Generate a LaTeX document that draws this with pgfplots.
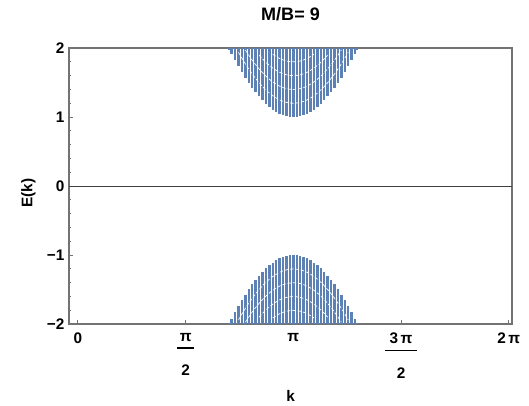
\documentclass[border=0pt]{standalone}
\usepackage{fontspec}
\setmainfont{Liberation Sans}
\usepackage{pgfplots}
\pgfplotsset{compat=1.18}
\definecolor{mblue}{rgb}{0.368,0.507,0.710}
\definecolor{framegray}{gray}{0.45}
\begin{document}
\begin{tikzpicture}
\begin{axis}[
  width=332pt, height=207pt, scale only axis,
  xmin=-0.13, xmax=6.33, ymin=-2, ymax=2,
  axis line style={framegray, line width=1.1pt},
  tick style={framegray, line width=0.8pt},
  major tick length=3pt, minor tick length=1.6pt,
  xtick pos=bottom, ytick pos=left,
  xtick={0,1.5708,3.1416,4.7124,6.2832},
  xticklabels={0,{\shortstack{π\\[1.25pt]\rule{12.5pt}{1.2pt}\\[9.25pt]2}},π,{\shortstack{3\,π\\[1.25pt]\rule{24pt}{1.2pt}\\[9.25pt]2}},2\,π},
  ytick={-2,-1,0,1,2},
  yticklabels={−2,−1,0,1,2},
  minor y tick num=4,
  /pgf/number format/assume math mode=true,
  ticklabel style={font=\fontsize{11.5}{13}\selectfont\bfseries},
  xticklabel style={anchor=north, yshift=-3.25pt},
  title={M/B= 9},
  title style={font=\fontsize{13.5}{15}\selectfont\bfseries, at={(0.5,1)}, anchor=base, yshift=15pt},
  xlabel={k},
  xlabel style={font=\fontsize{11.5}{13}\selectfont\bfseries, at={(axis description cs:0.5,0)}, anchor=base, yshift=-58pt},
  ylabel={E(k)},
  ylabel style={font=\fontsize{11.5}{13}\selectfont\bfseries, at={(axis description cs:-0.092,0.475)}, anchor=center},
  clip=true,
]
% zero line
\addplot[black!75, line width=0.9pt, forget plot] coordinates {(-0.2,0) (6.5,0)};
% upper band: columns from E(k) up to 2
\addplot[draw=none, forget plot,
  error bars/.cd, y dir=minus, y explicit, error mark=none,
  error bar style={solid, draw=mblue, line width=1.8pt}]
coordinates {
(2.2116,2) -= (0,0.023)
(2.2416,2) -= (0,0.080)
(2.2916,2) -= (0,0.174)
(2.3416,2) -= (0,0.263)
(2.3916,2) -= (0,0.348)
(2.4416,2) -= (0,0.429)
(2.4916,2) -= (0,0.504)
(2.5416,2) -= (0,0.576)
(2.5916,2) -= (0,0.642)
(2.6416,2) -= (0,0.702)
(2.6916,2) -= (0,0.758)
(2.7416,2) -= (0,0.808)
(2.7916,2) -= (0,0.853)
(2.8416,2) -= (0,0.891)
(2.8916,2) -= (0,0.924)
(2.9416,2) -= (0,0.952)
(2.9916,2) -= (0,0.973)
(3.0416,2) -= (0,0.988)
(3.0916,2) -= (0,0.997)
(3.1416,2) -= (0,1.000)
(3.1916,2) -= (0,0.997)
(3.2416,2) -= (0,0.988)
(3.2916,2) -= (0,0.973)
(3.3416,2) -= (0,0.952)
(3.3916,2) -= (0,0.924)
(3.4416,2) -= (0,0.891)
(3.4916,2) -= (0,0.853)
(3.5416,2) -= (0,0.808)
(3.5916,2) -= (0,0.758)
(3.6416,2) -= (0,0.702)
(3.6916,2) -= (0,0.642)
(3.7416,2) -= (0,0.576)
(3.7916,2) -= (0,0.504)
(3.8416,2) -= (0,0.429)
(3.8916,2) -= (0,0.348)
(3.9416,2) -= (0,0.263)
(3.9916,2) -= (0,0.174)
(4.0416,2) -= (0,0.080)
(4.0716,2) -= (0,0.023)
};
% lower band: columns from -2 up to E(k)
\addplot[draw=none, forget plot,
  error bars/.cd, y dir=plus, y explicit, error mark=none,
  error bar style={solid, draw=mblue, line width=1.8pt}]
coordinates {
(2.2116,-2) += (0,0.023)
(2.2416,-2) += (0,0.080)
(2.2916,-2) += (0,0.174)
(2.3416,-2) += (0,0.263)
(2.3916,-2) += (0,0.348)
(2.4416,-2) += (0,0.429)
(2.4916,-2) += (0,0.504)
(2.5416,-2) += (0,0.576)
(2.5916,-2) += (0,0.642)
(2.6416,-2) += (0,0.702)
(2.6916,-2) += (0,0.758)
(2.7416,-2) += (0,0.808)
(2.7916,-2) += (0,0.853)
(2.8416,-2) += (0,0.891)
(2.8916,-2) += (0,0.924)
(2.9416,-2) += (0,0.952)
(2.9916,-2) += (0,0.973)
(3.0416,-2) += (0,0.988)
(3.0916,-2) += (0,0.997)
(3.1416,-2) += (0,1.000)
(3.1916,-2) += (0,0.997)
(3.2416,-2) += (0,0.988)
(3.2916,-2) += (0,0.973)
(3.3416,-2) += (0,0.952)
(3.3916,-2) += (0,0.924)
(3.4416,-2) += (0,0.891)
(3.4916,-2) += (0,0.853)
(3.5416,-2) += (0,0.808)
(3.5916,-2) += (0,0.758)
(3.6416,-2) += (0,0.702)
(3.6916,-2) += (0,0.642)
(3.7416,-2) += (0,0.576)
(3.7916,-2) += (0,0.504)
(3.8416,-2) += (0,0.429)
(3.8916,-2) += (0,0.348)
(3.9416,-2) += (0,0.263)
(3.9916,-2) += (0,0.174)
(4.0416,-2) += (0,0.080)
(4.0716,-2) += (0,0.023)
};
% inner bands (white gaps between the nested dotted curves)
\addplot[white, line width=0.5pt, dash pattern=on 2.5pt off 1.5pt, smooth, forget plot] coordinates {
(2.3416,1.937) (2.4416,1.771) (2.5416,1.624) (2.6416,1.498) (2.7416,1.392) (2.8416,1.309) (2.9416,1.248) (3.0416,1.212) (3.1416,1.200) (3.2416,1.212) (3.3416,1.248) (3.4416,1.309) (3.5416,1.392) (3.6416,1.498) (3.7416,1.624) (3.8416,1.771) (3.9416,1.937)};
\addplot[white, line width=0.5pt, dash pattern=on 2.5pt off 1.5pt, smooth, forget plot] coordinates {
(2.4416,1.971) (2.5416,1.824) (2.6416,1.698) (2.7416,1.592) (2.8416,1.509) (2.9416,1.448) (3.0416,1.412) (3.1416,1.400) (3.2416,1.412) (3.3416,1.448) (3.4416,1.509) (3.5416,1.592) (3.6416,1.698) (3.7416,1.824) (3.8416,1.971)};
\addplot[white, line width=0.5pt, dash pattern=on 2.5pt off 1.5pt, smooth, forget plot] coordinates {
(2.6416,1.898) (2.7416,1.792) (2.8416,1.709) (2.9416,1.648) (3.0416,1.612) (3.1416,1.600) (3.2416,1.612) (3.3416,1.648) (3.4416,1.709) (3.5416,1.792) (3.6416,1.898)};
\addplot[white, line width=0.5pt, dash pattern=on 2.5pt off 1.5pt, smooth, forget plot] coordinates {
(2.8416,1.909) (2.9416,1.848) (3.0416,1.812) (3.1416,1.800) (3.2416,1.812) (3.3416,1.848) (3.4416,1.909)};
\addplot[white, line width=0.5pt, dash pattern=on 2.5pt off 1.5pt, smooth, forget plot] coordinates {
(2.3416,-1.937) (2.4416,-1.771) (2.5416,-1.624) (2.6416,-1.498) (2.7416,-1.392) (2.8416,-1.309) (2.9416,-1.248) (3.0416,-1.212) (3.1416,-1.200) (3.2416,-1.212) (3.3416,-1.248) (3.4416,-1.309) (3.5416,-1.392) (3.6416,-1.498) (3.7416,-1.624) (3.8416,-1.771) (3.9416,-1.937)};
\addplot[white, line width=0.5pt, dash pattern=on 2.5pt off 1.5pt, smooth, forget plot] coordinates {
(2.4416,-1.971) (2.5416,-1.824) (2.6416,-1.698) (2.7416,-1.592) (2.8416,-1.509) (2.9416,-1.448) (3.0416,-1.412) (3.1416,-1.400) (3.2416,-1.412) (3.3416,-1.448) (3.4416,-1.509) (3.5416,-1.592) (3.6416,-1.698) (3.7416,-1.824) (3.8416,-1.971)};
\addplot[white, line width=0.5pt, dash pattern=on 2.5pt off 1.5pt, smooth, forget plot] coordinates {
(2.6416,-1.898) (2.7416,-1.792) (2.8416,-1.709) (2.9416,-1.648) (3.0416,-1.612) (3.1416,-1.600) (3.2416,-1.612) (3.3416,-1.648) (3.4416,-1.709) (3.5416,-1.792) (3.6416,-1.898)};
\addplot[white, line width=0.5pt, dash pattern=on 2.5pt off 1.5pt, smooth, forget plot] coordinates {
(2.8416,-1.909) (2.9416,-1.848) (3.0416,-1.812) (3.1416,-1.800) (3.2416,-1.812) (3.3416,-1.848) (3.4416,-1.909)};
\end{axis}
\pgfresetboundingbox
\path[use as bounding box] ([shift={(-51.75pt,-60.75pt)}]current axis.south west) rectangle ([shift={(12.75pt,36pt)}]current axis.north east);
\end{tikzpicture}
\end{document}
